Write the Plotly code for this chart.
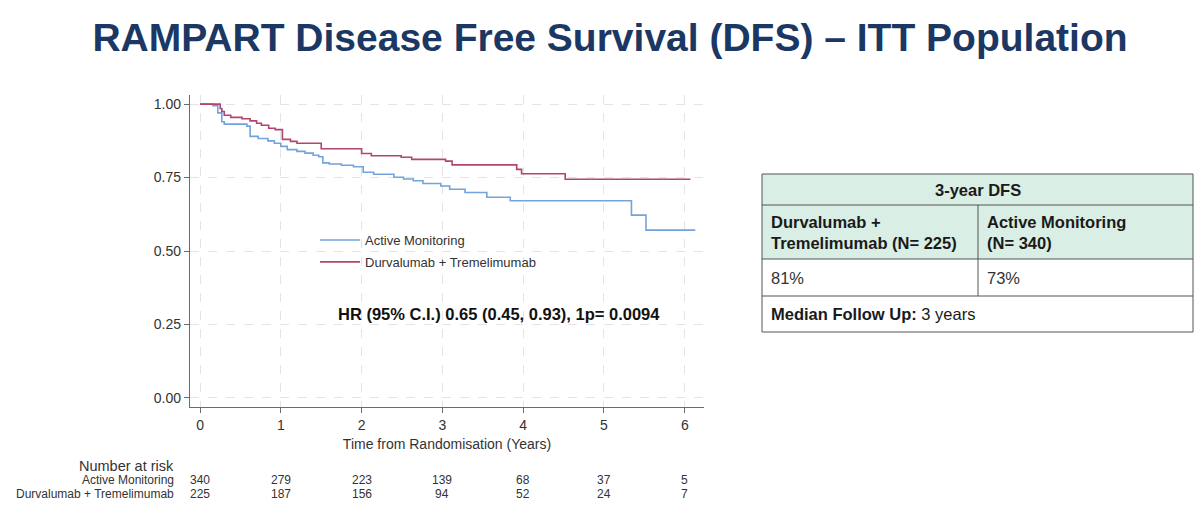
import plotly.graph_objects as go

# ---------------- data ----------------
arm_names = ["Active Monitoring", "Durvalumab + Tremelimumab"]

am_time = [0.00, 0.16, 0.22, 0.27, 0.30, 0.58, 0.62, 0.72, 0.84, 0.92, 1.00, 1.08,
           1.20, 1.30, 1.40, 1.47, 1.52, 1.60, 1.75, 1.90, 2.02, 2.15, 2.40, 2.52,
           2.64, 2.76, 2.98, 3.09, 3.28, 3.55, 3.84, 5.34, 5.52, 6.13]
am_surv = [1.000, 0.995, 0.970, 0.940, 0.932, 0.925, 0.890, 0.883, 0.875, 0.867, 0.856, 0.845,
           0.839, 0.833, 0.826, 0.821, 0.800, 0.796, 0.792, 0.787, 0.768, 0.761, 0.751, 0.745,
           0.739, 0.730, 0.721, 0.710, 0.699, 0.683, 0.671, 0.622, 0.571, 0.571]

dt_time = [0.00, 0.25, 0.27, 0.30, 0.38, 0.52, 0.62, 0.70, 0.76, 0.85, 0.93, 1.02,
           1.12, 1.20, 1.50, 2.00, 2.12, 2.49, 2.62, 3.04, 3.12, 3.92, 3.98, 4.52, 6.07]
dt_surv = [1.000, 0.985, 0.975, 0.962, 0.955, 0.950, 0.943, 0.935, 0.928, 0.918, 0.913, 0.880,
           0.873, 0.867, 0.848, 0.832, 0.824, 0.819, 0.812, 0.806, 0.793, 0.778, 0.763, 0.744, 0.744]

risk_times = [0, 1, 2, 3, 4, 5, 6]
risk_am = [340, 279, 223, 139, 68, 37, 5]
risk_dt = [225, 187, 156, 94, 52, 24, 7]

x_ticks = [0, 1, 2, 3, 4, 5, 6]
y_ticks = [0.00, 0.25, 0.50, 0.75, 1.00]

title_text = "RAMPART Disease Free Survival (DFS) \u2013 ITT Population"
x_title = "Time from Randomisation (Years)"
hr_text = "HR (95% C.I.) 0.65 (0.45, 0.93), 1p= 0.0094"
risk_title = "Number at risk"

table_header = "3-year DFS"
table_arm_labels = ["Durvalumab +<br>Tremelimumab (N= 225)", "Active Monitoring<br>(N= 340)"]
table_dfs = ["81%", "73%"]
table_followup_label = "Median Follow Up:"
table_followup_value = "3 years"

# ---------------- styling ----------------
W, H = 1200, 522
BLUE = "#72a3da"
RED = "#b2456f"
NAVY = "#1b3763"
AX = "#6b6b6b"
TXT = "#333333"
SANS = "Liberation Sans, Arial, sans-serif"


def px(x):
    return x / W


def py(y):
    return 1 - y / H


fig = go.Figure()
fig.add_trace(go.Scatter(x=am_time, y=am_surv, mode="lines", line_shape="hv",
                         line=dict(color=BLUE, width=1.6), name=arm_names[0],
                         legendgroup="a"))
fig.add_trace(go.Scatter(x=dt_time, y=dt_surv, mode="lines", line_shape="hv",
                         line=dict(color=RED, width=1.6), name=arm_names[1],
                         legendgroup="b"))

fig.update_layout(
    width=W, height=H, autosize=False,
    margin=dict(l=0, r=0, t=0, b=0),
    paper_bgcolor="white", plot_bgcolor="white",
    font=dict(family=SANS, color=TXT, size=13),
    title=dict(text=title_text, x=px(610), y=py(37), xanchor="center", yanchor="middle",
               font=dict(family=SANS, size=39, color=NAVY, weight="bold")),
    showlegend=True,
    legend=dict(x=px(315), y=py(225), xanchor="left", yanchor="top",
                bgcolor="rgba(0,0,0,0)", font=dict(size=13, color=TXT),
                tracegroupgap=2, traceorder="grouped", itemwidth=40),
    xaxis=dict(domain=[px(190), px(704)], range=[-0.124, 6.238],
               tickvals=x_ticks, ticks="outside", ticklen=5, tickcolor=AX,
               showline=True, linecolor=AX, linewidth=1.3,
               showgrid=True, gridcolor="#e4e4e4", griddash="dash", gridwidth=1,
               zeroline=False, tickfont=dict(size=14, color=TXT),
               title=dict(text=x_title, font=dict(size=14, color=TXT), standoff=7)),
    yaxis=dict(domain=[py(407), py(95)], range=[-0.031, 1.031],
               tickvals=y_ticks, tickformat=".2f", ticks="outside", ticklen=5, tickcolor=AX,
               showline=True, linecolor=AX, linewidth=1.3,
               showgrid=True, gridcolor="#e4e4e4", griddash="dash", gridwidth=1,
               zeroline=False, tickfont=dict(size=14, color=TXT)),
)

ann = []
# HR text
ann.append(dict(text="<b>" + hr_text + "</b>", x=3.7, y=0.285, xref="x", yref="y",
                showarrow=False, xanchor="center", yanchor="middle",
                font=dict(size=16.5, color="#111111")))

# Number at risk table
ann.append(dict(text=risk_title, x=px(176), y=py(466), xref="paper", yref="paper",
                showarrow=False, xanchor="right", yanchor="middle",
                font=dict(size=14.5, color=TXT)))
for name, yy in zip(arm_names, [480, 494]):
    ann.append(dict(text=name, x=px(176), y=py(yy), xref="paper", yref="paper",
                    showarrow=False, xanchor="right", yanchor="middle",
                    font=dict(size=12, color=TXT)))
for t, a, d in zip(risk_times, risk_am, risk_dt):
    ann.append(dict(text=str(a), x=t, y=py(480), xref="x", yref="paper",
                    showarrow=False, xanchor="center", yanchor="middle",
                    font=dict(size=12, color=TXT)))
    ann.append(dict(text=str(d), x=t, y=py(494), xref="x", yref="paper",
                    showarrow=False, xanchor="center", yanchor="middle",
                    font=dict(size=12, color=TXT)))

# Summary table (drawn with shapes + text)
TL, TR, TDIV = 762, 1193, 978
R0, R1, R2, R3, R4 = 174, 205, 259, 296, 332
GREEN = "#d9eee4"
BORDER = "#555555"
shapes = [
    dict(type="rect", xref="paper", yref="paper", x0=px(TL), x1=px(TR), y0=py(R2), y1=py(R0),
         fillcolor=GREEN, line=dict(width=0), layer="below"),
    dict(type="rect", xref="paper", yref="paper", x0=px(TL), x1=px(TR), y0=py(R4), y1=py(R0),
         fillcolor="rgba(0,0,0,0)", line=dict(color=BORDER, width=1)),
]
for r in [R1, R2, R3]:
    shapes.append(dict(type="line", xref="paper", yref="paper", x0=px(TL), x1=px(TR),
                       y0=py(r), y1=py(r), line=dict(color=BORDER, width=1)))
shapes.append(dict(type="line", xref="paper", yref="paper", x0=px(TDIV), x1=px(TDIV),
                   y0=py(R1), y1=py(R3), line=dict(color=BORDER, width=1)))

TSIZE = 16.5
TFONT = dict(family=SANS, size=TSIZE, color="#1a1a1a")
ann.append(dict(text="<b>" + table_header + "</b>", x=px((TL + TR) / 2), y=py((R0 + R1) / 2),
                xref="paper", yref="paper", showarrow=False, xanchor="center", yanchor="middle",
                font=TFONT))
for lbl, xx in zip(table_arm_labels, [TL + 7, TDIV + 7]):
    ann.append(dict(text="<b>" + lbl + "</b>", x=px(xx), y=py((R1 + R2) / 2), xref="paper",
                    yref="paper", showarrow=False, xanchor="left", yanchor="middle",
                    align="left", font=TFONT))
for v, xx in zip(table_dfs, [TL + 7, TDIV + 7]):
    ann.append(dict(text=v, x=px(xx), y=py((R2 + R3) / 2), xref="paper", yref="paper",
                    showarrow=False, xanchor="left", yanchor="middle",
                    font=dict(family=SANS, size=TSIZE, color="#333333")))
ann.append(dict(text="<b>" + table_followup_label + "</b> " + table_followup_value,
                x=px(TL + 7), y=py((R3 + R4) / 2), xref="paper", yref="paper",
                showarrow=False, xanchor="left", yanchor="middle",
                font=dict(family=SANS, size=TSIZE, color="#1a1a1a")))

fig.update_layout(annotations=ann, shapes=shapes)

fig.write_html("out.html", config={"displayModeBar": False})
